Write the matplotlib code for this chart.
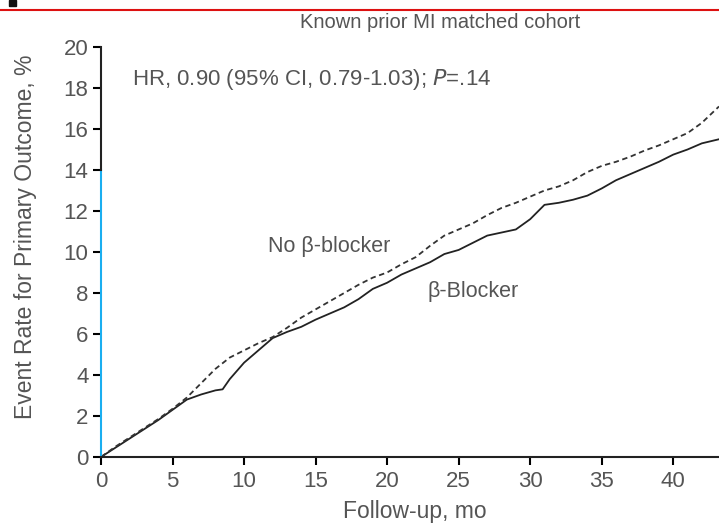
import matplotlib
matplotlib.use("Agg")
import matplotlib.pyplot as plt
from matplotlib.lines import Line2D
from matplotlib.patches import Rectangle

plt.rcParams['font.family'] = ['Liberation Sans', 'DejaVu Sans']

# Cumulative event rate (%) by follow-up month
t_blocker = [0, 1, 2, 3, 4, 5, 6, 7, 8, 8.5, 9, 10, 11, 12, 13, 14, 15, 16, 17, 18,
             19, 20, 21, 22, 23, 24, 25, 26, 27, 28, 29, 30, 31, 32, 33, 34, 35, 36,
             37, 38, 39, 40, 41, 42, 43.2]
v_blocker = [0, 0.45, 0.9, 1.35, 1.8, 2.3, 2.8, 3.05, 3.25, 3.3, 3.8, 4.6, 5.2, 5.8,
             6.1, 6.35, 6.7, 7.0, 7.3, 7.7, 8.2, 8.5, 8.9, 9.2, 9.5, 9.9, 10.1, 10.45,
             10.8, 10.95, 11.1, 11.6, 12.3, 12.4, 12.55, 12.75, 13.1, 13.5, 13.8,
             14.1, 14.4, 14.75, 15.0, 15.3, 15.5]

t_none = [0, 1, 2, 3, 4, 5, 6, 7, 8, 9, 10, 11, 12, 13, 14, 15, 16, 17, 18, 19, 20,
          21, 22, 23, 24, 25, 26, 27, 28, 29, 30, 31, 32, 33, 34, 35, 36, 37, 38, 39,
          40, 41, 42, 43.2]
v_none = [0, 0.5, 0.95, 1.4, 1.85, 2.35, 2.9, 3.6, 4.3, 4.85, 5.2, 5.55, 5.85, 6.3,
          6.8, 7.2, 7.6, 8.0, 8.4, 8.75, 9.0, 9.4, 9.75, 10.3, 10.8, 11.1, 11.4, 11.8,
          12.15, 12.4, 12.7, 13.0, 13.2, 13.5, 13.9, 14.2, 14.4, 14.65, 14.95, 15.2,
          15.5, 15.8, 16.3, 17.1]

x_ticks = [0, 5, 10, 15, 20, 25, 30, 35, 40]
y_ticks = [0, 2, 4, 6, 8, 10, 12, 14, 16, 18, 20]

text_col = '#555555'
blue = '#1aaef0'

fig = plt.figure(figsize=(7.19, 5.24), dpi=100)
ax = fig.add_axes([0.1405, 0.1279, 0.8595, 0.7824])

ax.plot(t_blocker, v_blocker, color='#222222', lw=1.3)
ax.plot(t_none, v_none, color='#333333', lw=1.3, dashes=(3, 2))

ax.set_xlim(0, 43.2)
ax.set_ylim(0, 20)
ax.set_xticks(x_ticks)
ax.set_yticks(y_ticks)
ax.tick_params(labelsize=16, labelcolor=text_col, length=6, width=1.5)
ax.tick_params(axis='y', pad=3)
ax.tick_params(axis='x', pad=4)

for s in ['top', 'right']:
    ax.spines[s].set_visible(False)
ax.spines['bottom'].set_linewidth(1.5)
ax.spines['bottom'].set_color('#222222')
ax.spines['left'].set_bounds(0, 14)
ax.spines['left'].set_color(blue)
ax.spines['left'].set_linewidth(1.5)
ax.plot([0, 0], [14, 20], color='#222222', lw=1.5, clip_on=False, zorder=3)
for val, tick in zip(y_ticks, ax.yaxis.get_major_ticks()):
    tick.tick1line.set_color(blue if val <= 14 else '#222222')

ax.set_xlabel('Follow-up, mo', fontsize=16.5, color=text_col)
ax.set_ylabel('Event Rate for Primary Outcome, %', fontsize=16.5, color=text_col)
ax.xaxis.set_label_coords(0.508, -0.105)
ax.yaxis.set_label_coords(-0.104, 0.537)

ax.text(2.2, 18.4, 'HR, 0.90 (95% CI, 0.79-1.03); $\\it{P}$=.14', fontsize=16,
        color=text_col, va='center')
ax.text(11.7, 10.25, 'No β-blocker', fontsize=15.5, color=text_col, va='center')
ax.text(22.8, 8.05, 'β-Blocker', fontsize=15.5, color=text_col, va='center')

fig.text(440 / 719, 1 - 22 / 524, 'Known prior MI matched cohort', fontsize=14.5,
         color=text_col, ha='center', va='center')

# rule across the top and the panel mark
fig.add_artist(Line2D([0, 1], [1 - 10 / 524, 1 - 10 / 524], color='#dd1111', lw=1.5))
fig.add_artist(Rectangle((9 / 719, 1 - 6 / 524), 7 / 719, 6 / 524, color='#111111'))

fig.savefig('out.png', dpi=100)
